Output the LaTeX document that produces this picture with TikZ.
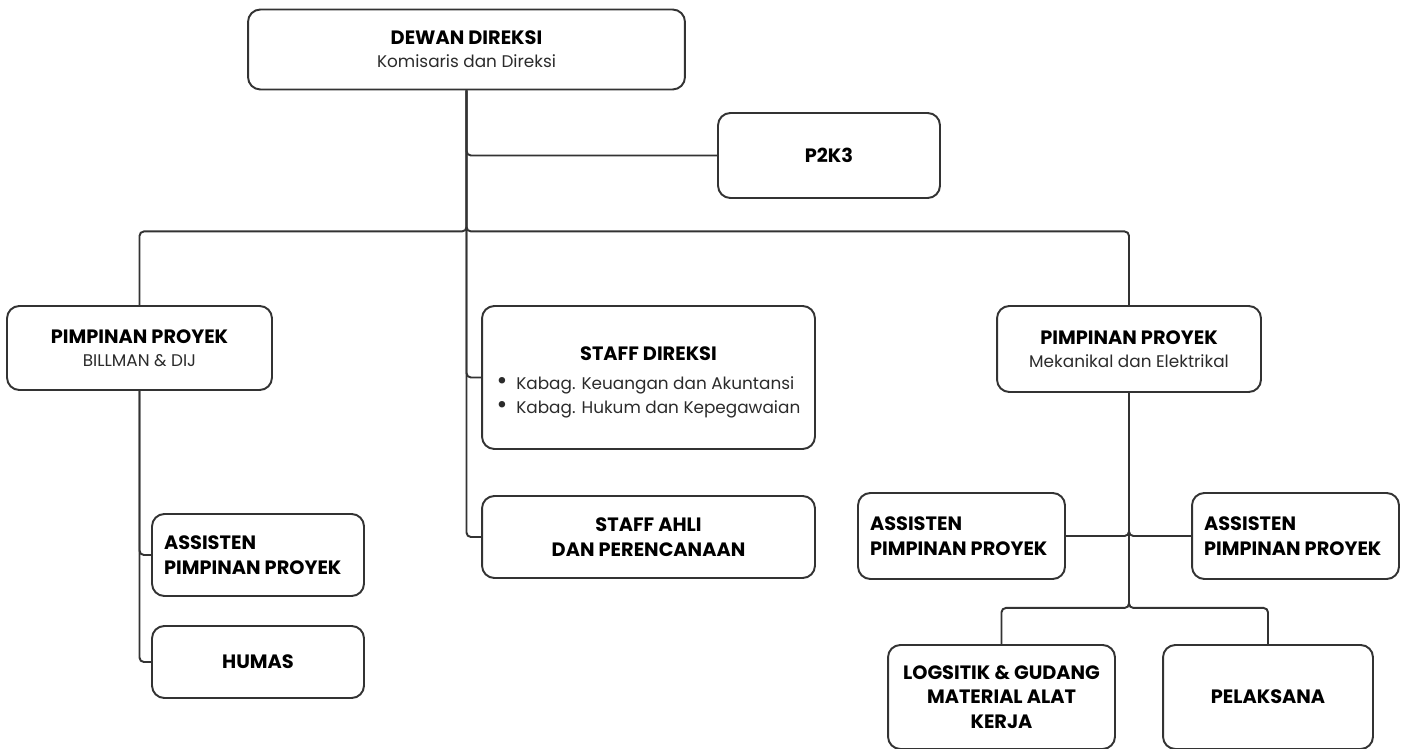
\documentclass[tikz,border=0pt]{standalone}
\usepackage{fontspec}
\setmainfont{Poppins}

\definecolor{linegray}{HTML}{333333}
\definecolor{subgray}{HTML}{2B2B2B}
\newcommand{\subline}[1]{{\mdseries\fontsize{9.6}{13}\selectfont\color{subgray}#1}}
\newcommand{\dotitem}{{\fontsize{15}{13}\selectfont\textbullet}\hspace{5pt}}

\begin{document}
\begin{tikzpicture}[x=0.02cm,y=-0.02cm,
		box/.style={draw=linegray,line width=1.1pt,rounded corners=7pt,inner sep=0pt,align=center,
			font=\fontsize{11}{14}\selectfont\bfseries},
		link/.style={draw=linegray,line width=1.1pt,rounded corners=2.5pt}]
			\useasboundingbox (0,0) rectangle (1406,749);

			\node[box,minimum width=8.74cm,minimum height=1.6cm] (dewan) at (466.5,49.5) {DEWAN DIREKSI\\[-1pt]\subline{Komisaris dan Direksi}};
			\node[box,minimum width=4.44cm,minimum height=1.7cm] (p2k3) at (829,155.5) {P2K3};

			\node[box,minimum width=5.3cm,minimum height=1.68cm] (pplft) at (139.5,348) {PIMPINAN PROYEK\\[-1pt]\subline{BILLMAN \& DIJ}};
			\node[box,minimum width=6.66cm,minimum height=2.86cm] (sdir) at (648.5,377.5) {\rule{0pt}{15pt}STAFF DIREKSI\\[6pt]
				\subline{\begin{tabular}{@{}l@{}}\dotitem Kabag. Keuangan dan Akuntansi\\[1pt]\dotitem Kabag. Hukum dan Kepegawaian\end{tabular}}};
			\node[box,minimum width=6.66cm,minimum height=1.64cm] (ahli) at (648.5,537) {STAFF AHLI\\DAN PERENCANAAN};
			\node[box,minimum width=5.28cm,minimum height=1.72cm] (pprgt) at (1129,349) {PIMPINAN PROYEK\\[-1pt]\subline{Mekanikal dan Elektrikal}};

			\node[box,align=flush left,text width=3.76cm,inner xsep=0.24cm,minimum height=1.64cm] (asl) at (258,555) {ASSISTEN\\PIMPINAN PROYEK};
			\node[box,minimum width=4.24cm,minimum height=1.44cm] (humas) at (258,662) {HUMAS};

			\node[box,align=flush left,text width=3.66cm,inner xsep=0.24cm,minimum height=1.72cm] (asr1) at (961.5,536) {ASSISTEN\\PIMPINAN PROYEK};
			\node[box,align=flush left,text width=3.66cm,inner xsep=0.24cm,minimum height=1.72cm] (asr2) at (1295.5,536) {ASSISTEN\\PIMPINAN PROYEK};
			\node[box,minimum width=4.54cm,minimum height=2.08cm] (logs) at (1001.5,697) {LOGSITIK \& GUDANG\\MATERIAL ALAT\\KERJA};
			\node[box,minimum width=4.2cm,minimum height=2.08cm] (pel) at (1268,697) {PELAKSANA};

			\draw[link] (dewan.south) |- (p2k3.west);
			\draw[link] (dewan.south) |- (sdir.west);
			\draw[link] (dewan.south) |- (ahli.west);
			\draw[link] (dewan.south) -- ++(0,141) -| (pplft.north);
			\draw[link] (dewan.south) -- ++(0,141) -| (pprgt.north);

			\draw[link] (pplft.south) |- (asl.west);
			\draw[link] (pplft.south) |- (humas.west);

			\draw[link] (pprgt.south) |- (asr1.east);
			\draw[link] (pprgt.south) |- (asr2.west);
			\draw[link] (pprgt.south) -- ++(0,215) -| (logs.north);
			\draw[link] (pprgt.south) -- ++(0,215) -| (pel.north);
		\end{tikzpicture}
\end{document}
